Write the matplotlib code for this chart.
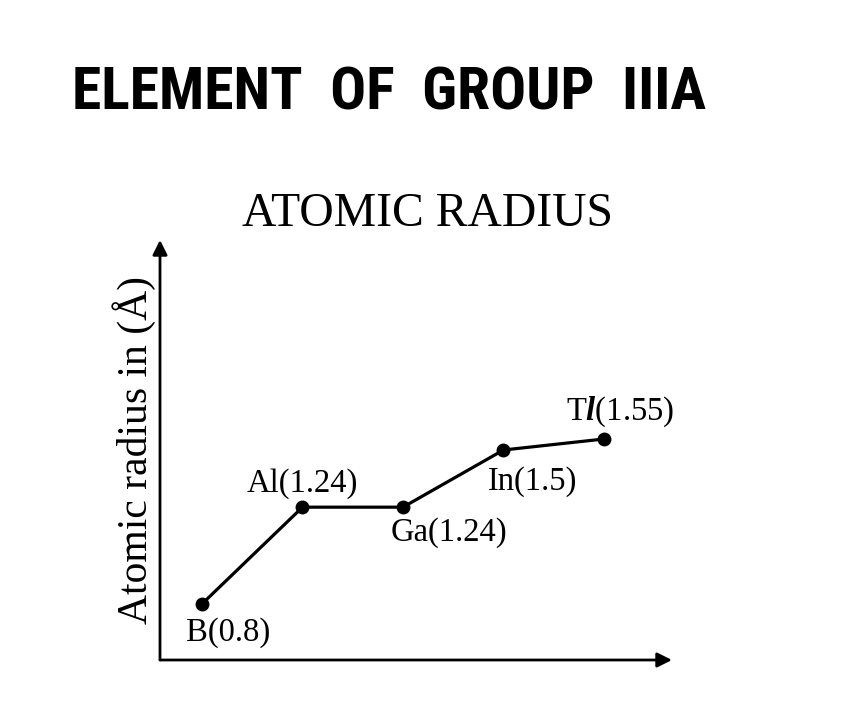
import matplotlib
matplotlib.use("Agg")
import matplotlib.pyplot as plt

# Data
elements = ["B", "Al", "Ga", "In", "T$\\mathit{l}$"]
radius = [0.8, 1.24, 1.24, 1.5, 1.55]
value_labels = ["0.8", "1.24", "1.24", "1.5", "1.55"]

plt.rcParams["mathtext.fontset"] = "custom"
plt.rcParams["mathtext.rm"] = "Liberation Serif"
plt.rcParams["mathtext.it"] = "Liberation Serif:italic:bold"
serif = "Liberation Serif"

fig = plt.figure(figsize=(8.53, 7.13), dpi=100)
W, H = 853, 713
ax = fig.add_axes([160 / W, 1 - 660 / H, (672 - 160) / W, (660 - 240) / H])

xs = list(range(len(elements)))
ax.plot(xs, radius, color="black", lw=2.3, marker="o", ms=9, zorder=3)

ax.set_xlim(-0.418, 4.677)
ax.set_ylim(0.545, 2.455)
ax.set_xticks([])
ax.set_yticks([])
for s in ax.spines.values():
    s.set_visible(False)

# axes with arrows
ax.annotate("", xy=(1, 0), xytext=(0, 0), xycoords="axes fraction",
            arrowprops=dict(arrowstyle="-|>", color="black", lw=2, mutation_scale=22, shrinkA=0, shrinkB=0))
ax.annotate("", xy=(0, 1), xytext=(0, 0), xycoords="axes fraction",
            arrowprops=dict(arrowstyle="-|>", color="black", lw=2, mutation_scale=22, shrinkA=0, shrinkB=0))

offsets = [(26, -29), (0, 24), (46, -25), (29, -32), (16, 27)]
for x, y, el, vl, (dx, dy) in zip(xs, radius, elements, value_labels, offsets):
    ax.annotate(f"{el}({vl})", xy=(x, y), xytext=(dx * 0.72, dy * 0.72),
                textcoords="offset points", ha="center", va="center",
                fontsize=23.5, family=serif)

ax.set_ylabel("Atomic radius in (Å)", family=serif, fontsize=30, labelpad=3)

fig.text(428 / W, 1 - 214 / H, "ATOMIC RADIUS", family=serif, fontsize=34.3,
         ha="center", va="center")
fig.text(72 / W, 1 - 94 / H, "ELEMENT  OF  GROUP  IIIA", family="Roboto Condensed",
         fontweight="bold", fontsize=43, ha="left", va="center")

fig.savefig("out.png", dpi=100, facecolor="white")
